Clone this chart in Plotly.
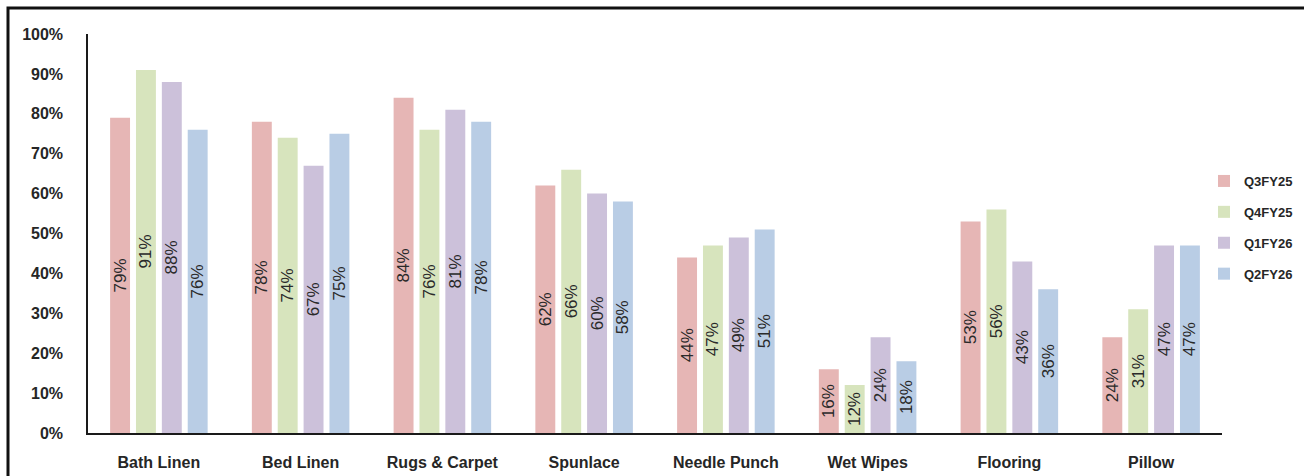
import plotly.graph_objects as go

categories = ["Bath Linen", "Bed Linen", "Rugs & Carpet", "Spunlace",
              "Needle Punch", "Wet Wipes", "Flooring", "Pillow"]
series_names = ["Q3FY25", "Q4FY25", "Q1FY26", "Q2FY26"]
q3fy25 = [79, 78, 84, 62, 44, 16, 53, 24]
q4fy25 = [91, 74, 76, 66, 47, 12, 56, 31]
q1fy26 = [88, 67, 81, 60, 49, 24, 43, 47]
q2fy26 = [76, 75, 78, 58, 51, 18, 36, 47]
y_tick_values = [0, 10, 20, 30, 40, 50, 60, 70, 80, 90, 100]
y_tick_labels = [f"{v}%" for v in y_tick_values]

series_values = [q3fy25, q4fy25, q1fy26, q2fy26]
colors = ["#E6B6B5", "#D7E4BD", "#CCC1DA", "#B9CDE5"]

W, H = 1304, 476
L, R, T, B = 88, 82, 34, 43
pw, ph = W - L - R, H - T - B
FONT = "Liberation Sans, Arial, sans-serif"

fig = go.Figure()
for name, vals, col in zip(series_names, series_values, colors):
    fig.add_trace(go.Bar(
        name=name, x=categories, y=vals,
        marker=dict(color=col, line=dict(width=0)),
        text=[f"{v}%" for v in vals],
        textposition="inside", insidetextanchor="middle",
        textangle=-90, constraintext="none",
        textfont=dict(family=FONT, size=17, color="#2a2a2a"),
        legendgroup=name,
    ))

fig.update_layout(
    width=W, height=H,
    margin=dict(l=L, r=R, t=T, b=B, pad=0, autoexpand=False),
    paper_bgcolor="white", plot_bgcolor="white",
    barmode="group", bargap=0.27, bargroupgap=0.23,
    showlegend=True,
    legend=dict(x=(1204 - L) / pw, xanchor="left", y=(433 - 166) / ph, yanchor="top",
                font=dict(family=FONT, size=13, color="#262626", weight="bold"),
                tracegroupgap=11, itemwidth=30, bgcolor="rgba(0,0,0,0)"),
    font=dict(family=FONT, color="#262626"),
    xaxis=dict(showline=True, linecolor="#1a1a1a", linewidth=1.5, showgrid=False,
               ticks="", ticklabelstandoff=14, automargin=False,
               tickfont=dict(size=16, weight="bold", color="#262626")),
    yaxis=dict(range=[0, 100], tickvals=y_tick_values, ticktext=y_tick_labels,
               showline=True, linecolor="#1a1a1a", linewidth=1.5, showgrid=False,
               ticks="", ticklabelstandoff=20, zeroline=False, automargin=False,
               tickfont=dict(size=16, weight="bold", color="#262626")),
)

# outer frame of the image (right and bottom edges fall outside the picture)
fig.add_shape(type="rect", xref="paper", yref="paper",
              x0=(8 - L) / pw, x1=(1360 - L) / pw,
              y0=(H - B - 520) / ph, y1=(H - B - 8) / ph,
              line=dict(color="#111111", width=3), fillcolor="rgba(0,0,0,0)", layer="above")

fig.write_html("out.html")
